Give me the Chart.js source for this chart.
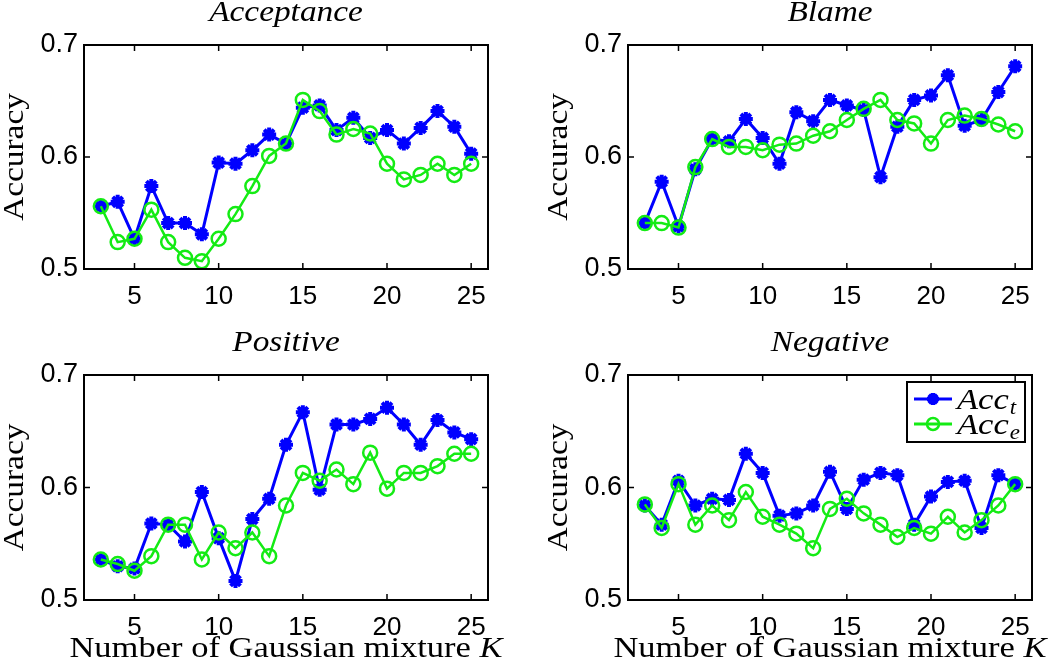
<!DOCTYPE html>
<html>
<head>
<meta charset="utf-8">
<script src="https://cdn.jsdelivr.net/npm/chart.js@4/dist/chart.umd.min.js"></script>
<style>
  body { margin: 0; background: #fff; }
  #wrap { position: relative; width: 1050px; height: 662px; }
  canvas { position: absolute; }
</style>
</head>
<body>
<div id="wrap">
  <canvas id="c0" width="525" height="331" style="left:0;top:0"></canvas>
  <canvas id="c1" width="525" height="331" style="left:525px;top:0"></canvas>
  <canvas id="c2" width="525" height="331" style="left:0;top:331px"></canvas>
  <canvas id="c3" width="525" height="331" style="left:525px;top:331px"></canvas>
</div>
<script>
// K values (x axis)
const kValues = [3, 4, 5, 6, 7, 8, 9, 10, 11, 12, 13, 14, 15, 16, 17, 18, 19, 20, 21, 22, 23, 24, 25];

const accTAcceptance = [0.556, 0.560, 0.527, 0.574, 0.541, 0.541, 0.531, 0.595, 0.594, 0.606, 0.620, 0.612,
  0.644, 0.646, 0.624, 0.635, 0.617, 0.624, 0.612, 0.626, 0.641, 0.627, 0.603];
const accEAcceptance = [0.556, 0.524, 0.527, 0.553, 0.524, 0.510, 0.507, 0.527, 0.549, 0.574, 0.601, 0.612,
  0.651, 0.641, 0.620, 0.625, 0.621, 0.594, 0.580, 0.584, 0.594, 0.584, 0.594];

const accTBlame = [0.541, 0.578, 0.538, 0.589, 0.616, 0.614, 0.634, 0.617, 0.594, 0.640, 0.632, 0.651,
  0.646, 0.642, 0.582, 0.627, 0.651, 0.655, 0.673, 0.628, 0.633, 0.658, 0.681];
const accEBlame = [0.541, 0.541, 0.537, 0.591, 0.616, 0.609, 0.609, 0.606, 0.611, 0.612, 0.619, 0.623,
  0.633, 0.643, 0.651, 0.633, 0.630, 0.612, 0.633, 0.637, 0.634, 0.629, 0.623];

const accTPositive = [0.536, 0.530, 0.528, 0.568, 0.567, 0.552, 0.596, 0.555, 0.517, 0.572, 0.590, 0.638,
  0.667, 0.598, 0.656, 0.656, 0.661, 0.671, 0.656, 0.638, 0.660, 0.649, 0.643];
const accEPositive = [0.536, 0.532, 0.526, 0.539, 0.567, 0.567, 0.536, 0.560, 0.546, 0.560, 0.539, 0.584,
  0.613, 0.606, 0.616, 0.603, 0.631, 0.599, 0.613, 0.613, 0.619, 0.630, 0.630];

const accTNegative = [0.584, 0.567, 0.606, 0.584, 0.590, 0.589, 0.630, 0.613, 0.575, 0.577, 0.584, 0.614,
  0.581, 0.607, 0.613, 0.611, 0.567, 0.592, 0.605, 0.606, 0.564, 0.611, 0.603];
const accENegative = [0.585, 0.564, 0.603, 0.567, 0.584, 0.571, 0.596, 0.574, 0.567, 0.559, 0.546, 0.581,
  0.590, 0.577, 0.567, 0.556, 0.564, 0.559, 0.574, 0.560, 0.571, 0.584, 0.603];

const xTickValues = [5, 10, 15, 20, 25];
const yTickValues = [0.5, 0.6, 0.7];
const panelTitles = ['Acceptance', 'Blame', 'Positive', 'Negative'];

const BLUE = '#0000ff';
const GREEN = '#14eb14';
const SERIF = '"Liberation Serif", "Times New Roman", serif';
const SANS = '"Liberation Sans", Arial, sans-serif';
const STRETCH = 1.15;

function stretchText(ctx, text, x, y, rot) {
    ctx.save();
    ctx.translate(x, y);
    if (rot) ctx.rotate(rot);
    ctx.scale(STRETCH, 1);
    ctx.fillText(text, 0, 0);
    ctx.restore();
}

// box, inward ticks, titles, legend
const framePlugin = {
    id: 'frame',
    afterDraw(chart, args, opts) {
        const ctx = chart.ctx;
        const a = chart.chartArea;
        const xs = chart.scales.x, ys = chart.scales.y;
        ctx.save();
        ctx.strokeStyle = '#000';
        ctx.lineWidth = 2;
        ctx.strokeRect(a.left, a.top, a.right - a.left, a.bottom - a.top);
        ctx.lineWidth = 1.5;
        ctx.beginPath();
        xTickValues.forEach(v => {
            const px = xs.getPixelForValue(v);
            ctx.moveTo(px, a.bottom); ctx.lineTo(px, a.bottom - 6);
            ctx.moveTo(px, a.top); ctx.lineTo(px, a.top + 6);
        });
        yTickValues.forEach(v => {
            const py = ys.getPixelForValue(v);
            ctx.moveTo(a.left, py); ctx.lineTo(a.left + 6, py);
            ctx.moveTo(a.right, py); ctx.lineTo(a.right - 6, py);
        });
        ctx.stroke();

        ctx.fillStyle = '#000';
        ctx.textAlign = 'center';
        ctx.textBaseline = 'alphabetic';
        const cx = (a.left + a.right) / 2;
        ctx.font = 'italic 29px ' + SERIF;
        stretchText(ctx, opts.title, cx, a.top - 24);

        ctx.font = '29px ' + SERIF;
        ctx.textBaseline = 'middle';
        stretchText(ctx, 'Accuracy', a.left - 69, (a.top + a.bottom) / 2, -Math.PI / 2);

        if (opts.xTitle) {
            ctx.textBaseline = 'alphabetic';
            const main = 'Number of Gaussian mixture ';
            ctx.font = 'italic 30px ' + SERIF;
            const kw = ctx.measureText('K').width * STRETCH;
            ctx.font = '30px ' + SERIF;
            const mw = ctx.measureText(main).width * STRETCH;
            const x0 = cx - (mw + kw) / 2;
            ctx.textAlign = 'left';
            stretchText(ctx, main, x0, a.bottom + 57);
            ctx.font = 'italic 30px ' + SERIF;
            stretchText(ctx, 'K', x0 + mw, a.bottom + 57);
        }

        if (opts.legend) {
            const bw = 118, bh = 60;
            const bx = a.right - 7 - bw, by = a.top + 7;
            ctx.fillStyle = '#fff';
            ctx.fillRect(bx, by, bw, bh);
            ctx.strokeStyle = '#000';
            ctx.lineWidth = 2;
            ctx.strokeRect(bx, by, bw, bh);
            const rows = [
                { color: BLUE, sub: 't', y: by + 17, star: true },
                { color: GREEN, sub: 'e', y: by + 42, star: false }
            ];
            rows.forEach(r => {
                ctx.strokeStyle = r.color;
                ctx.lineWidth = 3;
                ctx.beginPath();
                ctx.moveTo(bx + 7, r.y); ctx.lineTo(bx + 45, r.y);
                ctx.stroke();
                const mx = bx + 26;
                ctx.beginPath();
                if (r.star) {
                    ctx.lineWidth = 4;
                    for (let i = 0; i < 4; i++) {
                        const ang = i * Math.PI / 4;
                        ctx.moveTo(mx - 6 * Math.cos(ang), r.y - 6 * Math.sin(ang));
                        ctx.lineTo(mx + 6 * Math.cos(ang), r.y + 6 * Math.sin(ang));
                    }
                    ctx.stroke();
                } else {
                    ctx.lineWidth = 2.5;
                    ctx.arc(mx, r.y, 6, 0, Math.PI * 2);
                    ctx.stroke();
                }
                ctx.fillStyle = '#000';
                ctx.textAlign = 'left';
                ctx.textBaseline = 'alphabetic';
                ctx.font = 'italic 30px ' + SERIF;
                const tx = bx + 50;
                stretchText(ctx, 'Acc', tx, r.y + 10);
                const w = ctx.measureText('Acc').width * STRETCH;
                ctx.font = 'italic 20px ' + SERIF;
                stretchText(ctx, r.sub, tx + w + 1, r.y + 15);
            });
        }
        ctx.restore();
    }
};

function makePanel(id, title, tVals, eVals, pad, yWidth, xTitle, legend) {
    const ctx = document.getElementById(id).getContext('2d');
    new Chart(ctx, {
        type: 'line',
        data: {
            datasets: [
                {
                    label: 'Acc_t',
                    data: kValues.map((k, i) => ({ x: k, y: tVals[i] })),
                    borderColor: BLUE,
                    backgroundColor: BLUE,
                    borderWidth: 3,
                    pointStyle: 'star',
                    pointRadius: 7,
                    pointBorderWidth: 4,
                    pointBorderColor: BLUE,
                    tension: 0,
                    order: 2
                },
                {
                    label: 'Acc_e',
                    data: kValues.map((k, i) => ({ x: k, y: eVals[i] })),
                    borderColor: GREEN,
                    backgroundColor: 'rgba(0,0,0,0)',
                    borderWidth: 2.5,
                    pointStyle: 'circle',
                    pointRadius: 7,
                    pointBorderWidth: 2.5,
                    pointBorderColor: GREEN,
                    pointBackgroundColor: 'rgba(0,0,0,0)',
                    tension: 0,
                    order: 1
                }
            ]
        },
        options: {
            responsive: false,
            animation: false,
            layout: { padding: pad },
            plugins: {
                legend: { display: false },
                tooltip: { enabled: false },
                frame: { title: title, xTitle: xTitle, legend: legend }
            },
            scales: {
                x: {
                    type: 'linear',
                    min: 2,
                    max: 26,
                    grid: { display: false, drawTicks: false },
                    border: { display: false },
                    afterBuildTicks: s => { s.ticks = xTickValues.map(v => ({ value: v })); },
                    afterFit: s => { s.height = 62; },
                    ticks: {
                        color: '#000',
                        padding: 12,
                        maxRotation: 0,
                        autoSkip: false,
                        font: { family: SANS, size: 26 },
                        callback: v => String(v)
                    }
                },
                y: {
                    min: 0.5,
                    max: 0.7,
                    grid: { display: false, drawTicks: false },
                    border: { display: false },
                    afterBuildTicks: s => { s.ticks = yTickValues.map(v => ({ value: v })); },
                    afterFit: s => { s.width = yWidth; },
                    ticks: {
                        color: '#000',
                        padding: 6,
                        autoSkip: false,
                        font: { family: SANS, size: 27 },
                        callback: v => v.toFixed(1)
                    }
                }
            }
        },
        plugins: [framePlugin]
    });
}

makePanel('c0', panelTitles[0], accTAcceptance, accEAcceptance, { left: 0, top: 45, right: 37, bottom: 0 }, 84, false, false);
makePanel('c1', panelTitles[1], accTBlame, accEBlame, { left: 0, top: 45, right: 18, bottom: 0 }, 103, false, false);
makePanel('c2', panelTitles[2], accTPositive, accEPositive, { left: 0, top: 44, right: 37, bottom: 0 }, 84, true, false);
makePanel('c3', panelTitles[3], accTNegative, accENegative, { left: 0, top: 44, right: 18, bottom: 0 }, 103, true, true);
</script>
</body>
</html>
